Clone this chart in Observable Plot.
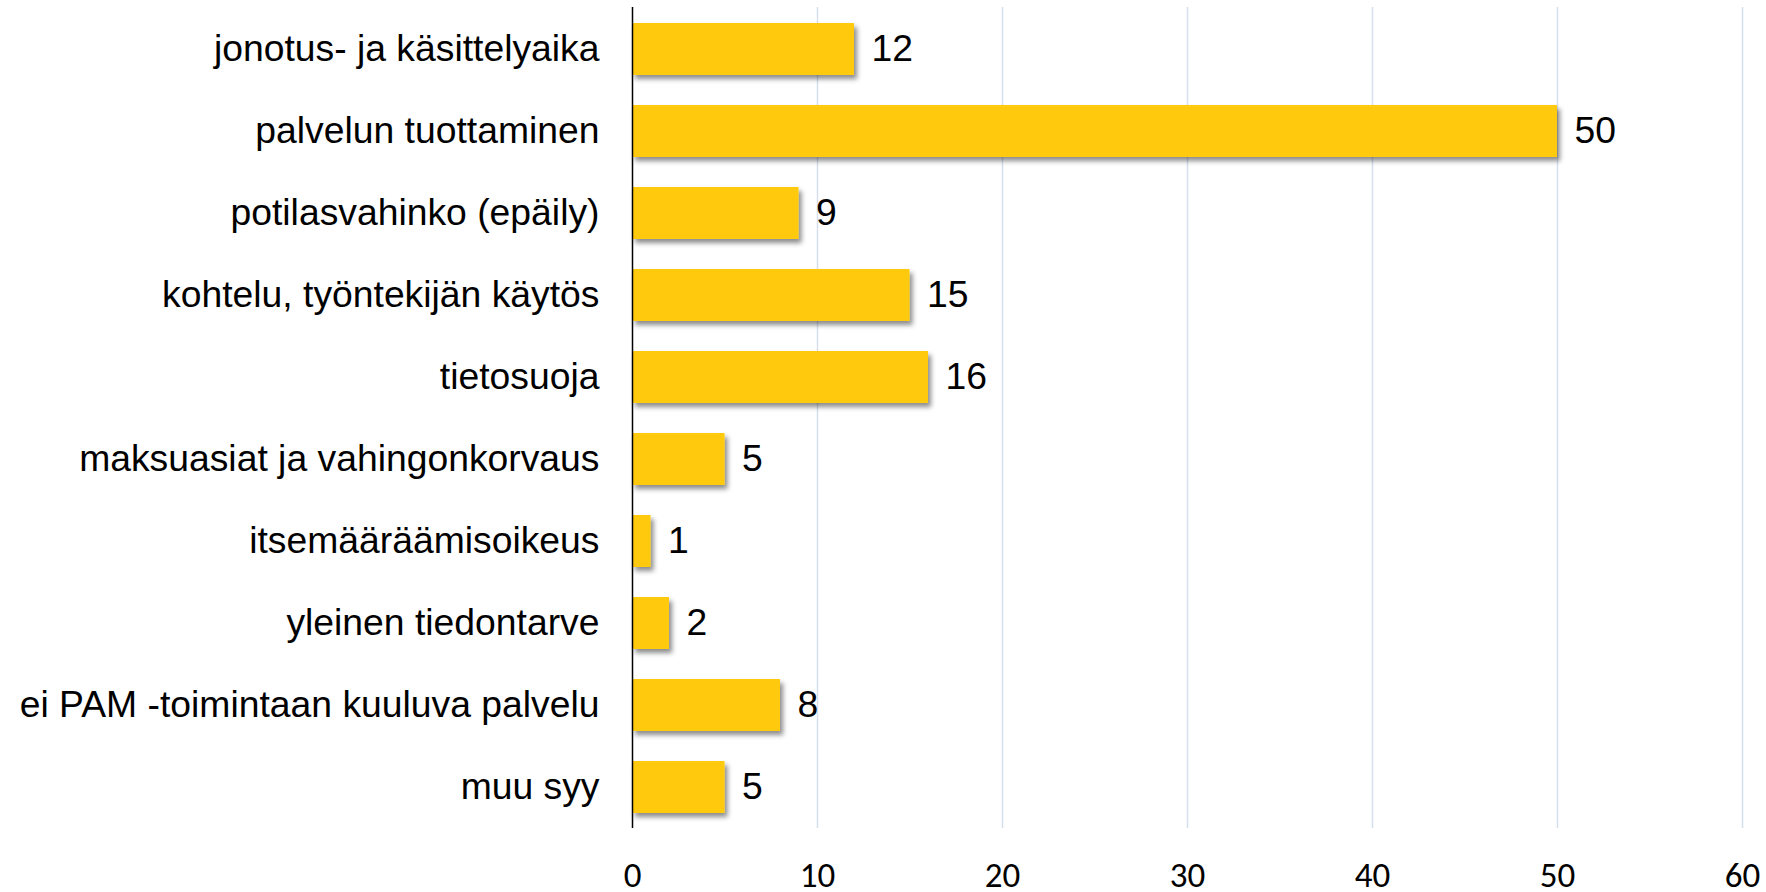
<!DOCTYPE html>
<html>
<head>
<meta charset="utf-8">
<script src="https://cdn.jsdelivr.net/npm/d3@7"></script>
<script src="https://cdn.jsdelivr.net/npm/@observablehq/plot@0.6"></script>
<style>
  html, body { margin: 0; padding: 0; background: #fff; }
  #chart svg { display: block; }
  #chart svg text { font-family: "Liberation Sans", Arial, sans-serif; }
  #chart svg g[aria-label="x-axis tick label"] text { font-family: "Carlito", "Calibri", "Lato", sans-serif !important; }
</style>
</head>
<body>
<div id="chart"></div>
<script>
const categories = [
  "jonotus- ja käsittelyaika",
  "palvelun tuottaminen",
  "potilasvahinko (epäily)",
  "kohtelu, työntekijän käytös",
  "tietosuoja",
  "maksuasiat ja vahingonkorvaus",
  "itsemääräämisoikeus",
  "yleinen tiedontarve",
  "ei PAM -toimintaan kuuluva palvelu",
  "muu syy"
];
const values = [12, 50, 9, 15, 16, 5, 1, 2, 8, 5];
const xTicks = [0, 10, 20, 30, 40, 50, 60];
const gridTicks = [10, 20, 30, 40, 50, 60];

const data = categories.map((c, i) => ({category: c, value: values[i]}));

const chart = Plot.plot({
  width: 1766,
  height: 892,
  marginLeft: 632,
  marginRight: 24,
  marginTop: 7,
  marginBottom: 64,
  style: {background: "#fff", color: "#000", fontFamily: "'Liberation Sans', Arial, sans-serif"},
  x: {domain: [0, 60]},
  y: {domain: categories, paddingInner: 0.37, paddingOuter: 0.18},
  marks: [
    Plot.gridX(gridTicks, {stroke: "#d5dfee", strokeOpacity: 1, strokeWidth: 1.5}),
    Plot.barX(data, {x: "value", y: "category", fill: "#ffc90b"}),
    Plot.ruleX([0], {stroke: "#000", strokeWidth: 1.5}),
    Plot.text(data, {x: "value", y: "category", text: d => String(d.value), textAnchor: "start", dx: 17, fontSize: 37.3, fill: "#000"}),
    Plot.axisY({tickSize: 0, tickPadding: 33, fontSize: 37.3, label: null}),
    Plot.axisX({ticks: xTicks, tickSize: 0, tickPadding: 34, fontSize: 35, label: null})
  ]
});

// drop shadow on bars (styling)
const ns = "http://www.w3.org/2000/svg";
const defs = document.createElementNS(ns, "defs");
defs.innerHTML = '<filter id="barShadow" x="-10%" y="-20%" width="130%" height="160%"><feDropShadow dx="3" dy="4" stdDeviation="2.5" flood-color="#000" flood-opacity="0.45"/></filter>';
chart.insertBefore(defs, chart.firstChild);
const barG = chart.querySelector('g[aria-label="bar"]');
if (barG) barG.setAttribute("filter", "url(#barShadow)");

document.getElementById("chart").appendChild(chart);
</script>
</body>
</html>
